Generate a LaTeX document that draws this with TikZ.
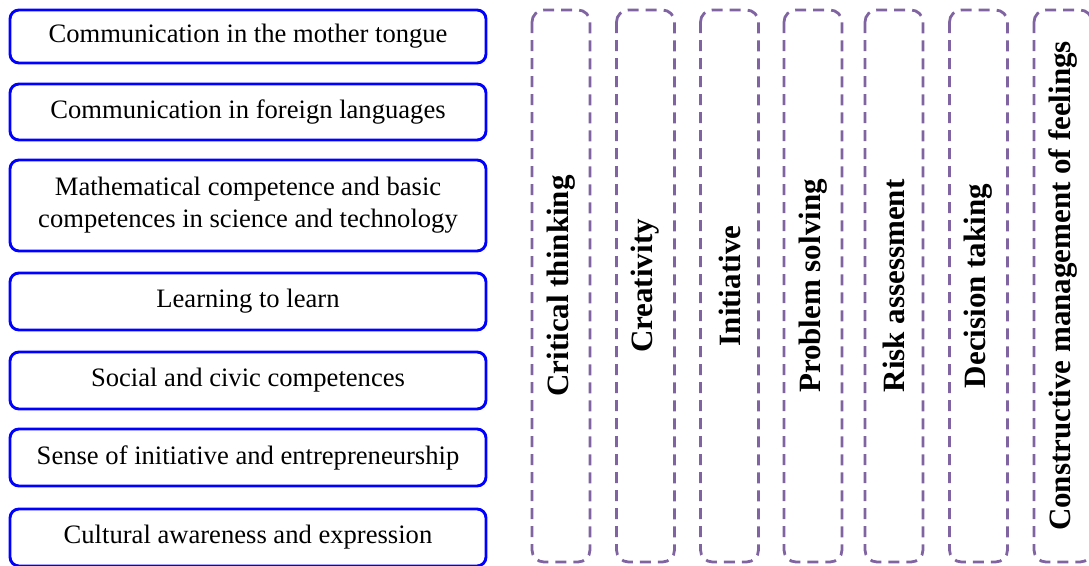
\documentclass[tikz,border=0pt]{standalone}
\usepackage{fontspec}
\setmainfont{Liberation Serif}
\usepackage{tikz}
\definecolor{kcblue}{RGB}{0,0,255}
\definecolor{kcpurple}{RGB}{128,100,162}
\tikzstyle{competence} = [rectangle, rounded corners=9pt, minimum width=476pt, minimum height=57pt, text centered, align=center, draw=kcblue, line width=2.9pt, inner sep=0pt, font=\fontsize{26.6}{32}\selectfont]
\tikzstyle{skill} = [rectangle, rounded corners=12pt, rotate=90, minimum width=552pt, minimum height=58pt, text centered, draw=kcpurple, line width=2.8pt, dash pattern=on 11pt off 7pt, inner sep=0pt, font=\fontsize{31}{36}\selectfont\bfseries]

\begin{document}
\begin{tikzpicture}[x=1pt, y=-1pt]
    \clip (0, 0) rectangle (1089, 565);

    % Key competences
    \node[competence, minimum height=53pt] (mother) at (248, 36.5) {Communication in the mother tongue};
    \node[competence, minimum height=56pt] (foreign) at (248, 112) {Communication in foreign languages};
    \node[competence, minimum height=91pt] (maths) at (248, 205.5) {Mathematical competence and basic\\competences in science and technology};
    \node[competence] (learn) at (248, 301.5) {Learning to learn};
    \node[competence] (social) at (248, 380.5) {Social and civic competences};
    \node[competence] (sense) at (248, 457.5) {Sense of initiative and entrepreneurship};
    \node[competence] (culture) at (248, 537.5) {Cultural awareness and expression};

    % Transversal skills
    \node[skill] (critical) at (561, 286) {Critical thinking};
    \node[skill] (creative) at (645.5, 286) {Creativity};
    \node[skill] (initiative) at (729.5, 286) {Initiative};
    \node[skill] (problem) at (813, 286) {Problem solving};
    \node[skill] (risk) at (894, 286) {Risk assessment};
    \node[skill] (decision) at (978.5, 286) {Decision taking};
    \node[skill] (feelings) at (1063, 286) {Constructive management of feelings};
\end{tikzpicture}
\end{document}
